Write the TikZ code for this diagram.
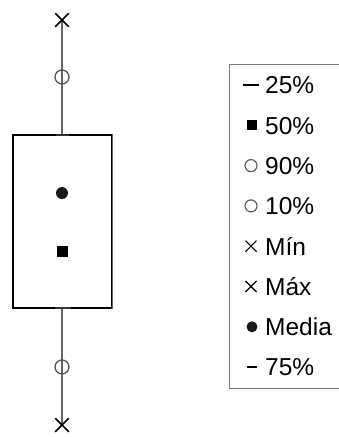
\documentclass[tikz,border=0pt]{standalone}
\usepackage{fontspec}
\setmainfont{Liberation Sans}
\usetikzlibrary{shapes.misc}
\definecolor{wgray}{HTML}{666666}
\definecolor{cgray}{HTML}{555555}
\definecolor{lgray}{HTML}{7A7A7A}
\begin{document}
\begin{tikzpicture}[x=1pt,y=-1pt,
  xmark/.style={cross out,draw=black,line width=1.5pt,minimum size=12pt,inner sep=0pt},
  omark/.style={circle,draw=cgray,line width=1.3pt,minimum size=14pt,inner sep=0pt},
  dmark/.style={circle,fill=black!90,minimum size=12pt,inner sep=0pt},
  smark/.style={rectangle,fill=black,minimum size=11pt,inner sep=0pt},
  lxmark/.style={cross out,draw=black,line width=1.1pt,minimum size=10pt,inner sep=0pt},
  lomark/.style={circle,draw=cgray,line width=1.1pt,minimum size=12pt,inner sep=0pt},
  ldmark/.style={circle,fill=black!90,minimum size=11pt,inner sep=0pt},
  lsmark/.style={rectangle,fill=black,minimum size=10pt,inner sep=0pt},
  ltext/.style={anchor=base west,inner sep=0pt,font=\fontsize{24.5}{26}\selectfont},
  whisk/.style={draw=wgray,line width=1.3pt},
  capline/.style={draw=black!80,line width=2.6pt}]
\useasboundingbox (0,0) rectangle (339,437);
\clip (0,0) rectangle (339,437);
% whiskers
\coordinate (wtop) at (62,20);
\coordinate (wbot) at (62,425);
\coordinate (btop) at (62,135);
\coordinate (bbot) at (62,308);
\draw[whisk] (wtop) -- (btop);
\draw[whisk] (bbot) -- (wbot);
% box
\node[draw=black,line width=1.2pt,fill=white,minimum width=99pt,minimum height=173pt,inner sep=0pt] (box) at (62.5,221.5) {};
\draw[draw=wgray,line width=1.2pt] (box.north east) -- (box.south east);
% caps
\coordinate (c1a) at (56,135); \coordinate (c1b) at (69,135);
\coordinate (c2a) at (55,308); \coordinate (c2b) at (71,308);
\draw[capline] (c1a) -- (c1b);
\draw[capline] (c2a) -- (c2b);
% markers
\node[xmark] (maxm) at (62,20) {};
\node[omark] (p90) at (62,77) {};
\node[dmark] (mean) at (62,193) {};
\node[smark] (med) at (62,251.5) {};
\node[omark] (p10) at (62,367) {};
\node[xmark] (minm) at (62,425) {};
% legend
\draw[draw=lgray,line width=1pt] (229.5,64) rectangle (360,388);
\coordinate (d1a) at (243,85); \coordinate (d1b) at (259,85);
\draw[line width=1.4pt] (d1a) -- (d1b);
\node[ltext] (t1) at (265,93.8) {25\%};
\node[lsmark] (l2) at (251.5,125.3) {};
\node[ltext] (t2) at (265,134.1) {50\%};
\node[lomark] (l3) at (251,165.6) {};
\node[ltext] (t3) at (265,174.4) {90\%};
\node[lomark] (l4) at (251,205.9) {};
\node[ltext] (t4) at (265,214.7) {10\%};
\node[lxmark] (l5) at (251,246.2) {};
\node[ltext] (t5) at (265,255) {Mín};
\node[lxmark] (l6) at (251,286.5) {};
\node[ltext] (t6) at (265,295.3) {Máx};
\node[ldmark] (l7) at (252,326.8) {};
\node[ltext] (t7) at (265,335.6) {Media};
\coordinate (d8a) at (247,367.1); \coordinate (d8b) at (257,367.1);
\draw[line width=1.4pt] (d8a) -- (d8b);
\node[ltext] (t8) at (265,375.9) {75\%};
\end{tikzpicture}
\end{document}
